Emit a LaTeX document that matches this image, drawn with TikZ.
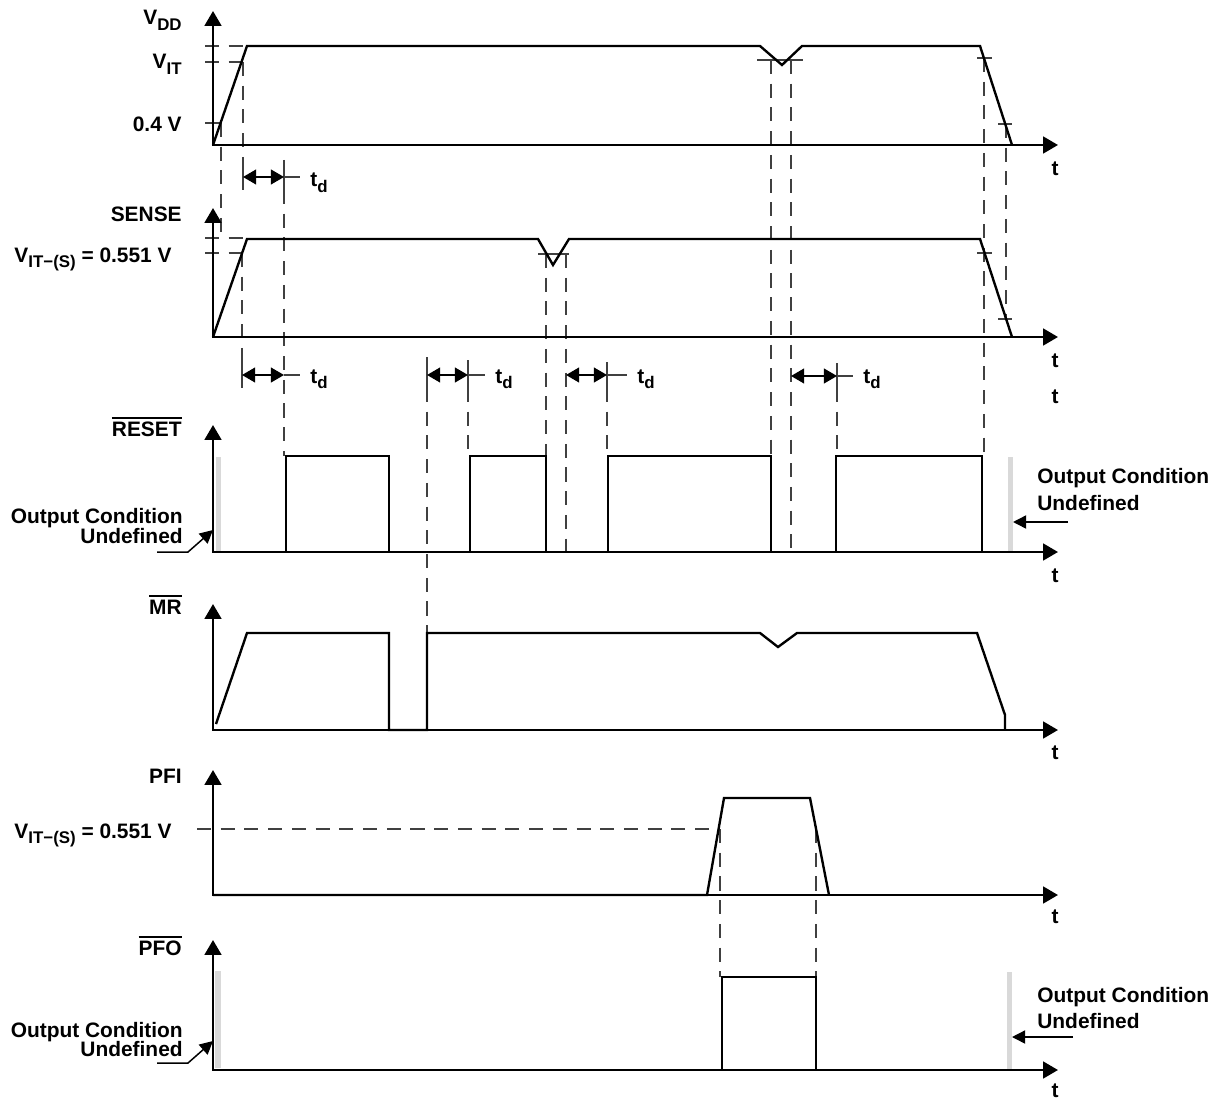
\documentclass[tikz,border=0pt]{standalone}
\usepackage{fontspec}
\setmainfont{Liberation Sans}
\usetikzlibrary{arrows.meta,positioning}

\newcommand{\lowtxt}[1]{\raisebox{-3pt}{\fontsize{9.6}{10}\selectfont #1}}
\newcommand{\barred}[1]{\vbox{\hrule height 0.9pt\kern 1.6pt\hbox{#1}}}

\begin{document}
\begin{tikzpicture}[x=0.02cm,y=-0.02cm,
  lbl/.style={font=\fontsize{11.9}{14}\selectfont\bfseries,inner sep=0pt},
  axis/.style={line width=1.5pt,line join=miter,{Triangle[length=8.5pt,width=9.5pt]}-{Triangle[length=8.5pt,width=9.5pt]}},
  wave/.style={line width=1.35pt,line join=miter},
  guide/.style={black!75,line width=0.85pt,dash pattern=on 8pt off 5.5pt},
  tck/.style={black!75,line width=0.85pt},
  undef/.style={fill=black!15,draw=none},
  tdarr/.style={line width=0.85pt,{Triangle[length=7.5pt,width=8.5pt]}-{Triangle[length=7.5pt,width=8.5pt]}},
  note/.style={line width=0.85pt,-{Triangle[length=7.5pt,width=7.5pt]}}]
\useasboundingbox (0,0) rectangle (1222,1101);

% undefined output zones
\fill[undef] (216,457) rectangle (221,552);
\fill[undef] (1008,457) rectangle (1013,552);
\fill[undef] (215,971) rectangle (221,1068);
\fill[undef] (1007,972) rectangle (1012,1070);

% guide lines
\draw[guide] (205,46) -- (247,46);
\draw[guide] (205,62) -- (243,62);
\draw[guide] (205,238) -- (247,238);
\draw[guide] (205,253) -- (242,253);
\draw[guide] (197,829) -- (719,829);
\draw[guide] (221,123) -- (221,238);
\draw[guide] (243,62) -- (243,163);
\draw[guide] (284,190) -- (284,456);
\draw[guide] (242,253) -- (242,362);
\draw[guide] (427,388) -- (427,633);
\draw[guide] (468,388) -- (468,456);
\draw[guide] (546,254) -- (546,552);
\draw[guide] (566,254) -- (566,552);
\draw[guide] (607,388) -- (607,456);
\draw[guide] (771,60) -- (771,552);
\draw[guide] (791,60) -- (791,552);
\draw[guide] (837,388) -- (837,456);
\draw[guide] (984,58) -- (984,456);
\draw[guide] (1006,124) -- (1006,319);
\draw[guide] (720,829) -- (720,977);
\draw[guide] (816,829) -- (816,977);

% level ticks
\draw[tck] (205,123) -- (221,123);
\draw[tck] (757,60) -- (803,60);
\draw[tck] (977,58) -- (992,58);
\draw[tck] (998,124) -- (1012,124);
\draw[tck] (538,254) -- (569,254);
\draw[tck] (977,253) -- (992,253);
\draw[tck] (998,319) -- (1012,319);

% axes
\foreach \yb/\yt in {145/11,337/208,552/425,730/604,895/770,1070/940}
  \draw[axis] (213,\yt) -- (213,\yb) -- (1058,\yb);

% waveforms
\draw[wave] (213,145) -- (247,46) -- (760,46) -- (782,65) -- (802,46) -- (980,46) -- (1012,145);
\draw[wave] (213,337) -- (247,239) -- (538,239) -- (553,265) -- (569,239) -- (980,239) -- (1012,337);
\draw[wave] (213,552) -- (286,552) -- (286,456) -- (389,456) -- (389,552) -- (470,552) -- (470,456)
  -- (546,456) -- (546,552) -- (608,552) -- (608,456) -- (771,456) -- (771,552) -- (836,552)
  -- (836,456) -- (982,456) -- (982,552);
\draw[wave] (216,724) -- (247,633) -- (389,633) -- (389,730) -- (427,730) -- (427,633) -- (760,633)
  -- (778,647) -- (797,633) -- (977,633) -- (1005,715) -- (1005,730);
\draw[wave] (213,895) -- (707,895) -- (724,798) -- (810,798) -- (829,895);
\draw[wave] (722,1070) -- (722,977) -- (816,977) -- (816,1070);

% delay markers
\draw[tck] (243,163) -- (243,190);
\draw[tck] (284,160) -- (284,190);
\draw[tdarr] (243,177) -- (284,177);
\draw[tck] (284,177) -- (300,177);
\node[lbl,anchor=base west] (td1) at (310,187) {t\lowtxt{d}};

\draw[tck] (242,362) -- (242,388);
\draw[tdarr] (242,375) -- (284,375);
\draw[tck] (284,375) -- (300,375);
\node[lbl,anchor=base west] (td2) at (310,383) {t\lowtxt{d}};

\draw[tck] (427,357) -- (427,388);
\draw[tck] (468,360) -- (468,388);
\draw[tdarr] (427,375) -- (468,375);
\draw[tck] (468,375) -- (485,375);
\node[lbl,anchor=base west] (td3) at (495,383) {t\lowtxt{d}};

\draw[tck] (607,362) -- (607,388);
\draw[tdarr] (566,375) -- (607,375);
\draw[tck] (607,375) -- (627,375);
\node[lbl,anchor=base west] (td4) at (637,383) {t\lowtxt{d}};

\draw[tck] (837,363) -- (837,388);
\draw[tdarr] (791,376) -- (837,376);
\draw[tck] (837,376) -- (853,376);
\node[lbl,anchor=base west] (td5) at (863,383) {t\lowtxt{d}};

% signal labels
\node[lbl,anchor=base east] (vdd) at (182,25) {V\lowtxt{DD}};
\node[lbl,anchor=base east] (vit) at (182,69) {V\lowtxt{IT}};
\node[lbl,anchor=base east] (v04) at (182,132) {0.4 V};
\node[lbl,anchor=base east] (sense) at (182,222) {SENSE};
\node[lbl,anchor=base east] (vits1) at (172,262) {V\lowtxt{IT−(S)} = 0.551 V};
\node[lbl,anchor=base east] (reset) at (182,436) {\barred{RESET}};
\node[lbl,anchor=base east] (mr) at (182,614) {\barred{MR}};
\node[lbl,anchor=base east] (pfi) at (182,783) {PFI};
\node[lbl,anchor=base east] (vits2) at (172,838) {V\lowtxt{IT−(S)} = 0.551 V};
\node[lbl,anchor=base east] (pfo) at (182,955) {\barred{PFO}};

% time labels
\foreach \yt [count=\i] in {176,367,403,582,759,923,1097}
  \node[lbl,anchor=base] (t\i) at (1055,\yt) {t};

% undefined output notes
\node[lbl,anchor=base east] (ocr) at (183,523) {Output Condition};
\node[lbl,anchor=base east] (udr) at (183,543) {Undefined};
\coordinate (ocr0) at (157,552);
\coordinate (ocr1) at (188,552);
\coordinate (ocr2) at (213,530);
\draw[note] (ocr0) -- (ocr1) -- (ocr2);

\node[lbl,anchor=base west] (ocr') at (1037,483) {Output Condition};
\node[lbl,anchor=base west] (udr') at (1037,510) {Undefined};
\coordinate (ocr3) at (1068,522);
\coordinate (ocr4) at (1013,522);
\draw[note] (ocr3) -- (ocr4);

\node[lbl,anchor=base east] (ocp) at (183,1037) {Output Condition};
\node[lbl,anchor=base east] (udp) at (183,1056) {Undefined};
\coordinate (ocp0) at (157,1063);
\coordinate (ocp1) at (188,1063);
\coordinate (ocp2) at (213,1041);
\draw[note] (ocp0) -- (ocp1) -- (ocp2);

\node[lbl,anchor=base west] (ocp') at (1037,1002) {Output Condition};
\node[lbl,anchor=base west] (udp') at (1037,1028) {Undefined};
\coordinate (ocp3) at (1073,1037);
\coordinate (ocp4) at (1012,1037);
\draw[note] (ocp3) -- (ocp4);
\end{tikzpicture}
\end{document}
